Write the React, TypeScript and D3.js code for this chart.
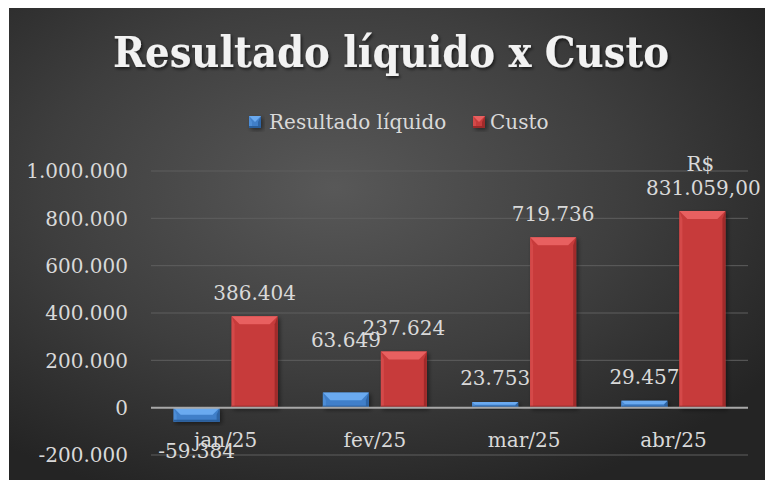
import React from "react";
import * as d3 from "d3";

const categories = ["jan/25", "fev/25", "mar/25", "abr/25"];
const resultadoLiquido = [-59384, 63649, 23753, 29457];
const custo = [386404, 237624, 719736, 831059];
const yTicks = [-200000, 0, 200000, 400000, 600000, 800000, 1000000];
const seriesNames = ["Resultado líquido", "Custo"];
const custoCurrencyLabel = [false, false, false, true];

// label nudges (style only)
const resultadoExtraLift = [0, 29, 0, 0];

const W = 765;
const H = 480;
const FONT = "'DejaVu Serif', serif";
const TEXT = "#d9d9d9";

const ptBR = d3.formatLocale({
  decimal: ",",
  thousands: ".",
  grouping: [3],
  currency: ["R$ ", ""],
  minus: "-",
});
const fmtInt = ptBR.format(",d");
const fmtMoney = ptBR.format(",.2f");

const colors = {
  blue: { main: "#3f7fc9", top: "#6aaaf0", left: "#4d8dd6", right: "#2e65a6", bottom: "#2c5f9c" },
  red: { main: "#c73a3a", top: "#e86060", left: "#d44a4a", right: "#a02c2c", bottom: "#9a2a2a" },
};

function BevelBar({ x, y, w, h, c }: { x: number; y: number; w: number; h: number; c: any }) {
  const b = Math.min(8, h / 2, w / 2);
  const bs = Math.min(3, h / 2);
  return (
    <g filter="url(#barShadow)">
      <rect x={x} y={y} width={w} height={h} fill={c.main} />
      <polygon points={`${x},${y} ${x + bs},${y + b} ${x + bs},${y + h} ${x},${y + h}`} fill={c.left} />
      <polygon points={`${x + w},${y} ${x + w - bs},${y + b} ${x + w - bs},${y + h} ${x + w},${y + h}`} fill={c.right} />
      <polygon points={`${x},${y} ${x + w},${y} ${x + w - b},${y + b} ${x + b},${y + b}`} fill={c.top} />
      <rect x={x} y={y + h - Math.min(2, h / 3)} width={w} height={Math.min(2, h / 3)} fill={c.bottom} />
    </g>
  );
}

export default function App() {
  const plotLeft = 151;
  const plotRight = 748;
  const y = d3.scaleLinear().domain([-200000, 1000000]).range([455, 171]);
  const x = d3.scaleBand().domain(categories).range([plotLeft, plotRight]).padding(0);
  const barW = 46;
  const gap = 12;
  const y0 = y(0);

  return (
    <svg width={W} height={H} style={{ position: "absolute", left: 0, top: 0 }} xmlns="http://www.w3.org/2000/svg">
      <defs>
        <radialGradient id="bg" cx="0.43" cy="0.38" r="0.7">
          <stop offset="0" stopColor="#585858" />
          <stop offset="0.55" stopColor="#3e3e3e" />
          <stop offset="1" stopColor="#242424" />
        </radialGradient>
        <filter id="barShadow" x="-30%" y="-30%" width="160%" height="160%">
          <feDropShadow dx="2" dy="2" stdDeviation="2" floodColor="#000" floodOpacity="0.45" />
        </filter>
        <filter id="titleShadow" x="-10%" y="-30%" width="120%" height="160%">
          <feDropShadow dx="1.5" dy="2" stdDeviation="1.5" floodColor="#000" floodOpacity="0.6" />
        </filter>
      </defs>
      <rect x={0} y={0} width={W} height={H} fill="#ffffff" />
      <rect x={9} y={8} width={W - 9} height={H - 8} fill="url(#bg)" />

      {/* Title */}
      <text
        x={391}
        y={67}
        textAnchor="middle"
        fontFamily="'DejaVu Serif Condensed', 'DejaVu Serif', serif"
        fontWeight="bold"
        fontSize={42}
        fill="#f2f2f2"
        textLength={556}
        lengthAdjust="spacingAndGlyphs"
        filter="url(#titleShadow)"
      >
        Resultado líquido x Custo
      </text>

      {/* Legend */}
      <g fontFamily={FONT} fontSize={20} fill={TEXT}>
        <BevelBar x={249} y={116} w={12} h={12} c={colors.blue} />
        <text x={269} y={129}>{seriesNames[0]}</text>
        <BevelBar x={473} y={116} w={12} h={12} c={colors.red} />
        <text x={490} y={129}>{seriesNames[1]}</text>
      </g>

      {/* Gridlines */}
      {yTicks.filter((t) => t !== 0).map((t) => (
        <line key={t} x1={plotLeft} x2={plotRight} y1={y(t)} y2={y(t)} stroke="#5e5e5e" strokeWidth={1} />
      ))}

      {/* Y tick labels */}
      <g fontFamily={FONT} fontSize={20} fill={TEXT} textAnchor="end">
        {yTicks.map((t) => (
          <text key={t} x={128} y={y(t) + 7.3}>
            {fmtInt(t)}
          </text>
        ))}
      </g>

      {/* Bars */}
      {categories.map((cat, i) => {
        const cx = (x(cat) as number) + x.bandwidth() / 2;
        const r = resultadoLiquido[i];
        const c = custo[i];
        const bx = cx - gap / 2 - barW;
        const rx = cx + gap / 2;
        const by = Math.min(y(r), y0);
        const bh = Math.abs(y(r) - y0);
        return (
          <g key={cat}>
            <BevelBar x={bx} y={by} w={barW} h={bh} c={colors.blue} />
            <BevelBar x={rx} y={y(c)} w={barW} h={y0 - y(c)} c={colors.red} />
          </g>
        );
      })}

      {/* Zero axis line */}
      <line x1={plotLeft} x2={plotRight} y1={y0} y2={y0} stroke="#a8a8a8" strokeWidth={2} />

      {/* Category labels */}
      <g fontFamily={FONT} fontSize={20} fill={TEXT} textAnchor="middle">
        {categories.map((cat) => (
          <text key={cat} x={(x(cat) as number) + x.bandwidth() / 2} y={y0 + 39}>
            {cat}
          </text>
        ))}
      </g>

      {/* Data labels */}
      <g fontFamily={FONT} fontSize={20} fill={TEXT} textAnchor="middle">
        {categories.map((cat, i) => {
          const cx = (x(cat) as number) + x.bandwidth() / 2;
          const bxc = cx - gap / 2 - barW / 2;
          const rxc = cx + gap / 2 + barW / 2;
          const r = resultadoLiquido[i];
          const c = custo[i];
          const ry = r >= 0 ? y(r) - 17 - resultadoExtraLift[i] : y(r) + 36;
          return (
            <g key={cat}>
              <text x={bxc} y={ry}>{fmtInt(r)}</text>
              {custoCurrencyLabel[i] ? (
                <text x={rxc + 1} y={y(c) - 16}>
                  <tspan x={rxc - 2} dy={-24}>R$</tspan>
                  <tspan x={rxc + 1} dy={24}>{fmtMoney(c)}</tspan>
                </text>
              ) : (
                <text x={rxc} y={y(c) - 16}>{fmtInt(c)}</text>
              )}
            </g>
          );
        })}
      </g>
    </svg>
  );
}
